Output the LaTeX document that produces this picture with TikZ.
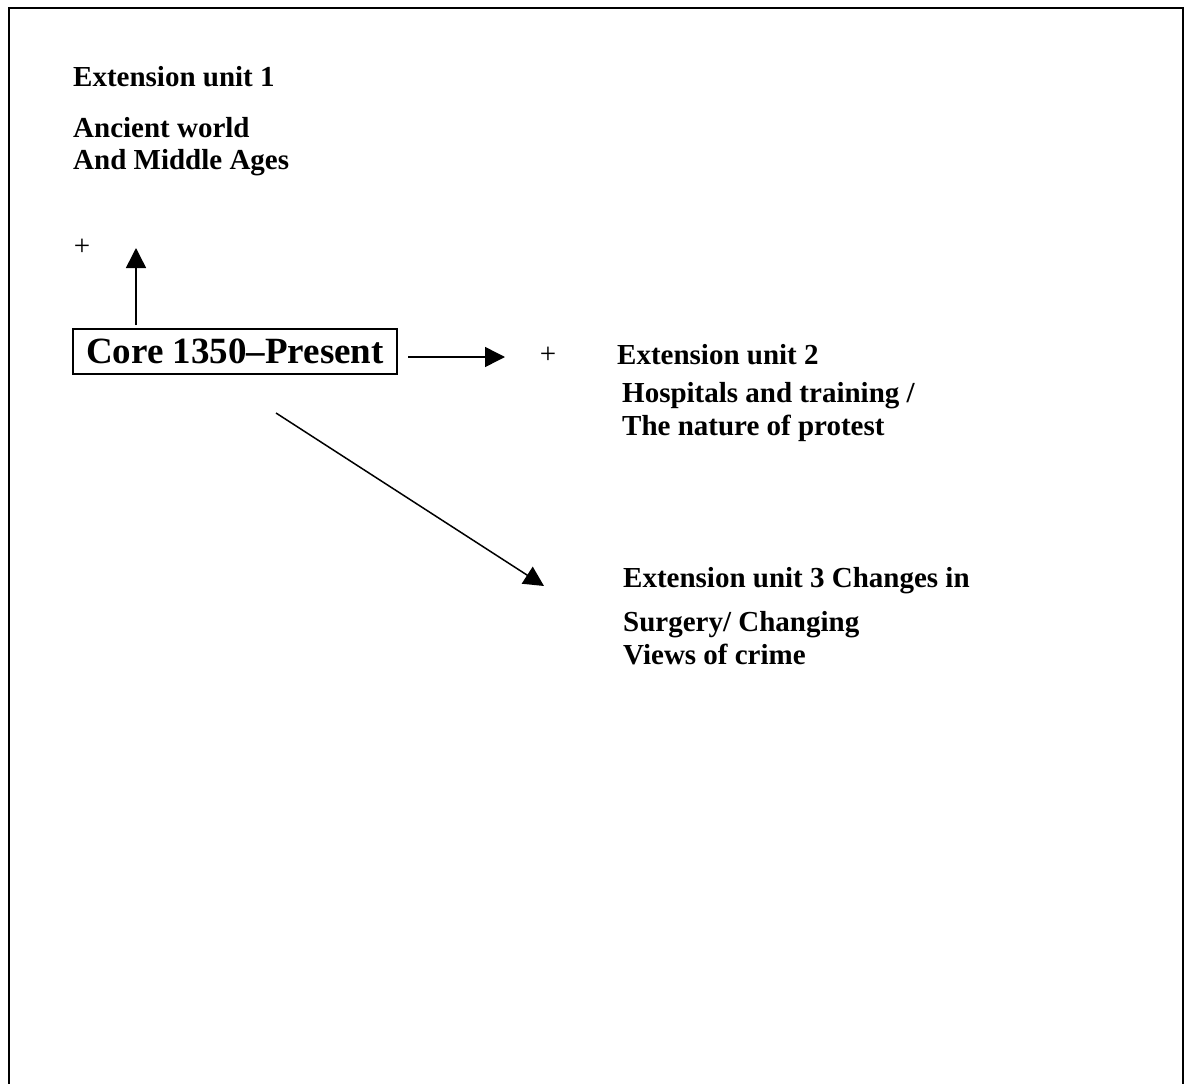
\documentclass[tikz,border=0pt]{standalone}
\usepackage{fontspec}
\setmainfont{Liberation Serif}
\usetikzlibrary{arrows.meta}
\begin{document}
\begin{tikzpicture}[x=1pt,y=-1pt,
  lbl/.style={anchor=base west,inner sep=0pt,font=\fontsize{29}{34}\selectfont\bfseries},
  plus/.style={inner sep=0pt,font=\fontsize{29}{34}\selectfont},
  arr/.style={line width=1.5pt,-{Triangle[length=20pt,width=20pt]}}]
\useasboundingbox (0,0) rectangle (1187,1084);
\clip (0,0) rectangle (1187,1084);
\draw[line width=2pt] (9,8) rectangle (1183,1100);
% Extension unit 1
\node[lbl] (e1) at (73,86) {Extension unit 1};
\node[lbl] (e1a) at (73,137) {Ancient world};
\node[lbl] (e1b) at (73,169) {And Middle Ages};
\node[plus] (p1) at (82,247) {+};
% Core
\node[draw,line width=1.5pt,minimum width=324pt,minimum height=45pt,inner sep=0pt,
      font=\fontsize{37}{40}\selectfont\bfseries] (core) at (235,351.5) {Core 1350–Present};
\coordinate (upS) at (136,325);
\coordinate (upE) at (136,248);
\draw[arr] (upS) -- (upE);
% Extension unit 2
\coordinate (rS) at (408,357);
\coordinate (rE) at (505,357);
\draw[arr] (rS) -- (rE);
\node[plus] (p2) at (548,355) {+};
\node[lbl] (e2) at (617,364) {Extension unit 2};
\node[lbl] (e2a) at (622,402) {Hospitals and training /};
\node[lbl] (e2b) at (622,435) {The nature of protest};
% Extension unit 3
\coordinate (dS) at (276,413);
\coordinate (dE) at (544,586);
\draw[arr] (dS) -- (dE);
\node[lbl] (e3) at (623,587) {Extension unit 3 Changes in};
\node[lbl] (e3a) at (623,631) {Surgery/ Changing};
\node[lbl] (e3b) at (623,664) {Views of crime};
\end{tikzpicture}
\end{document}
